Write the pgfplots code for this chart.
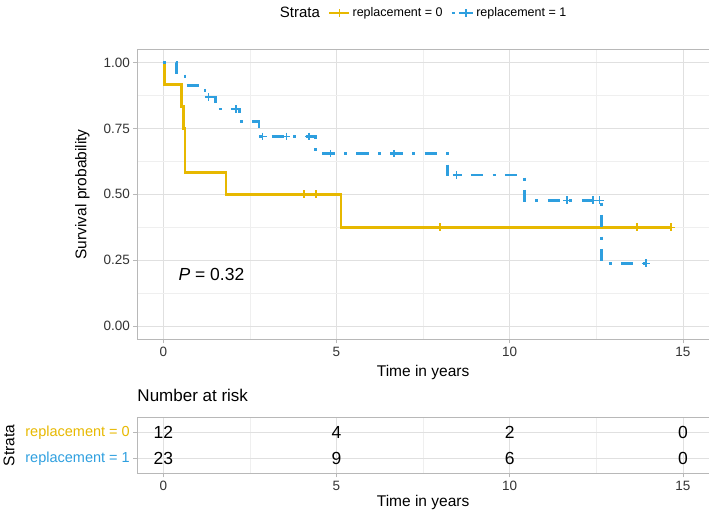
\documentclass[border=0pt]{standalone}
\usepackage{pgfplots}
\pgfplotsset{compat=1.18}
\usepackage{fontspec}
\setmainfont{Liberation Sans}
\definecolor{ycol}{HTML}{E7B800}
\definecolor{bcol}{HTML}{2E9FDF}
\definecolor{gridmaj}{HTML}{E0E0E0}
\definecolor{gridmin}{HTML}{EFEFEF}
\definecolor{bordercol}{HTML}{B8B8B8}
\definecolor{ticktext}{HTML}{333333}
\newcommand{\fs}[1]{\fontsize{#1bp}{#1bp}\selectfont}
\pgfplotsset{
  kmbase/.style={
    scale only axis,
    xmin=-0.75, xmax=15.75,
    xtick={0,5,10,15},
    minor xtick={2.5,7.5,12.5},
    tick pos=left,
    tick align=outside,
    major tick length=4bp,
    minor tick length=0bp,
    every tick/.style={bordercol, line width=0.8bp},
    axis line style={bordercol, line width=0.8bp},
    major grid style={gridmaj, line width=0.7bp},
    minor grid style={gridmin, line width=0.5bp},
    ticklabel style={font=\fs{13.5}, text=ticktext},
    /pgf/number format/assume math mode=true,
    label style={font=\fs{15.5}, text=black},
  },
  bdash/.style={dash pattern=on 3bp off 9.3bp on 12.4bp off 9.3bp},
}
\begin{document}
\begin{tikzpicture}
\useasboundingbox (0bp,0bp) rectangle (709bp,515bp);
% ---------------- survival curves ----------------
\begin{axis}[
  kmbase,
  at={(137.3bp,175.7bp)}, anchor=south west,
  width=571.6bp, height=290bp,
  ymin=-0.05, ymax=1.05,
  ytick={0,0.25,0.5,0.75,1},
  yticklabels={0.00,0.25,0.50,0.75,1.00},
  minor ytick={0.125,0.375,0.625,0.875},
  grid=both,
  xlabel={Time in years},
  ylabel={Survival probability},
  xlabel style={at={(axis description cs:0.5,-0.116)}, anchor=center},
  ylabel style={at={(axis description cs:-0.096,0.5)}, anchor=center},
  legend style={at={(axis description cs:0.5,1.125)}, anchor=center, draw=none, fill=none,
    legend columns=3, font=\fs{12.5}, inner sep=0pt,
    /tikz/every even column/.append style={column sep=6bp}},
  legend cell align=left,
]
\addlegendimage{empty legend}
\addlegendentry{\fs{15}Strata}
\addlegendimage{legend image code/.code={
  \draw[ycol, line width=2.7bp] (0bp,0bp) -- (20bp,0bp);
  \draw[ycol, line width=1.3bp] (10bp,-3.8bp) -- (10bp,3.8bp);}}
\addlegendentry{replacement = 0}
\addlegendimage{legend image code/.code={
  \draw[bcol, line width=2.7bp] (0bp,0bp) -- (3bp,0bp);
  \draw[bcol, line width=2.7bp] (7bp,0bp) -- (21bp,0bp);
  \draw[bcol, line width=1.3bp] (14bp,-3.8bp) -- (14bp,3.8bp);}}
\addlegendentry{replacement = 1}
% replacement = 0
\addplot[const plot, ycol, line width=2.7bp, mark=none, forget plot] coordinates {
  (0,1) (0.03,0.9167) (0.53,0.8333) (0.58,0.75) (0.63,0.5833)
  (1.81,0.5) (5.13,0.375) (14.66,0.375)};
\addplot[only marks, ycol, mark=+, mark size=3.8bp, line width=1.3bp, forget plot] coordinates {
  (4.06,0.5) (4.41,0.5) (7.99,0.375) (13.67,0.375) (14.66,0.375)};
% replacement = 1
\addplot[const plot, bcol, line width=2.7bp, bdash, mark=none, forget plot] coordinates {
  (0,1) (0.39,0.9565) (0.63,0.9130) (1.2,0.8696) (1.5,0.8238) (2.19,0.7754)
  (2.76,0.7199) (4.4,0.6545) (8.2,0.5727) (10.42,0.4773) (12.64,0.2386) (13.93,0.2386)};
\addplot[only marks, bcol, mark=+, mark size=3.8bp, line width=1.3bp, forget plot] coordinates {
  (1.3,0.8696) (2.1,0.8238) (2.87,0.7199) (3.56,0.7199) (4.21,0.7199)
  (4.83,0.6545) (6.66,0.6545) (8.47,0.5727) (11.65,0.4773) (12.4,0.4773)
  (12.6,0.4773) (13.93,0.2386)};
\node[anchor=base west, font=\fs{17.5}] at (axis cs:0.34,0.172) {\textit{P} = 0.32};
\end{axis}
% ---------------- risk table ----------------
\begin{axis}[
  kmbase,
  at={(137.3bp,41.7bp)}, anchor=south west,
  width=571.6bp, height=55.6bp,
  ymin=0.423, ymax=2.56,
  ytick={1,2},
  yticklabels={\textcolor{bcol}{replacement = 1},\textcolor{ycol}{replacement = 0}},
  yticklabel style={font=\fs{14.5}},
  xmajorgrids, xminorgrids, ymajorgrids,
  xlabel={Time in years},
  ylabel={Strata},
  xlabel style={at={(axis description cs:0.5,-0.529)}, anchor=center},
  ylabel style={at={(axis description cs:-0.2245,0.5)}, anchor=center},
  title={Number at risk},
  title style={at={(axis description cs:0,1.187)}, anchor=base west, font=\fs{17}, inner sep=0pt},
]
\addplot[draw=none, mark=none, nodes near coords, point meta=explicit symbolic,
  every node near coord/.append style={anchor=center, font=\fs{17.5}, text=black}]
  table[meta=n] {
x y n
0 2 12
5 2 4
10 2 2
15 2 0
0 1 23
5 1 9
10 1 6
15 1 0
};
\end{axis}
\end{tikzpicture}
\end{document}
